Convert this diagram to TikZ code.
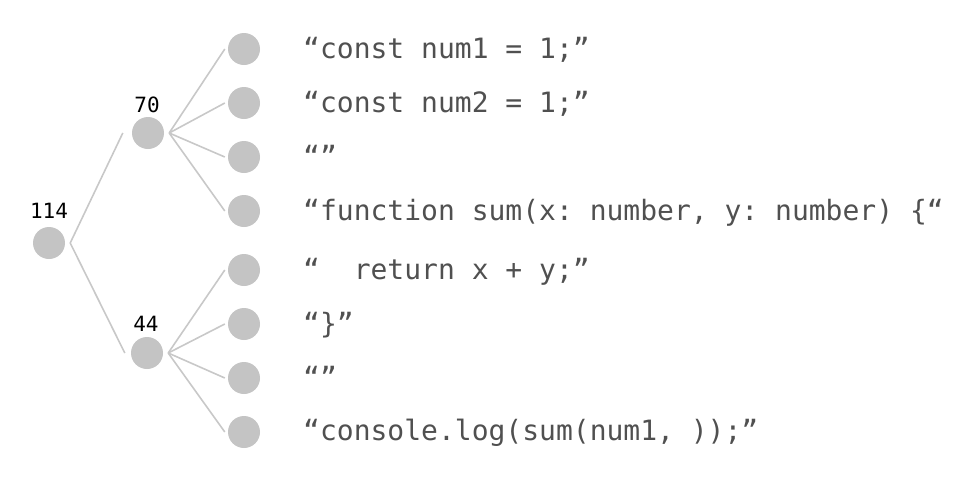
\documentclass[tikz,border=0pt]{standalone}
\usepackage{fontspec}
\setmonofont{DejaVu Sans Mono}
\definecolor{dotgray}{HTML}{C4C4C4}
\definecolor{linegray}{HTML}{C8C8C8}
\definecolor{codegray}{HTML}{505050}
\begin{document}
\begin{tikzpicture}[x=1pt,y=-1pt,
  dot/.style={circle,fill=dotgray,minimum size=32pt,inner sep=0pt},
  edge/.style={draw=linegray,line width=1.6pt},
  code/.style={anchor=base west,text=codegray,font=\ttfamily\fontsize{28}{32}\selectfont,inner sep=0pt},
  num/.style={text=black,font=\ttfamily\fontsize{21}{24}\selectfont,inner sep=0pt}]
\useasboundingbox (0,0) rectangle (970,491);
% tree nodes
\node[dot] (root) at (49,243) {};
\node[dot] (a) at (148,133) {};
\node[dot] (b) at (147,353) {};
\node[dot] (l1) at (244,49) {};
\node[dot] (l2) at (244,103) {};
\node[dot] (l3) at (244,157) {};
\node[dot] (l4) at (244,211) {};
\node[dot] (l5) at (244,270) {};
\node[dot] (l6) at (244,324) {};
\node[dot] (l7) at (244,378) {};
\node[dot] (l8) at (244,432) {};
% counts
\node[num] (n114) at (49,211) {114};
\node[num] (n70) at (147,105) {70};
\node[num] (n44) at (146,324) {44};
% edges
\draw[edge] ([xshift=5pt]root.east) -- ([xshift=-9pt]a.west);
\draw[edge] ([xshift=5pt]root.east) -- ([xshift=-6pt]b.west);
\foreach \l in {l1,l2,l3,l4} \draw[edge] ([xshift=5pt]a.east) -- ([xshift=-3pt]\l.west);
\foreach \l in {l5,l6,l7,l8} \draw[edge] ([xshift=5pt]b.east) -- ([xshift=-3pt]\l.west);
% code lines
\node[code] (t1) at (303,58) {“const num1 = 1;”};
\node[code] (t2) at (303,112) {“const num2 = 1;”};
\node[code] (t3) at (303,166) {“”};
\node[code] (t4) at (303,220) {“function sum(x: number, y: number) \{“};
\node[code] (t5) at (303,279) {“\ \ return x + y;”};
\node[code] (t6) at (303,333) {“\}”};
\node[code] (t7) at (303,387) {“”};
\node[code] (t8) at (303,440) {“console.log(sum(num1, ));”};
\end{tikzpicture}
\end{document}
